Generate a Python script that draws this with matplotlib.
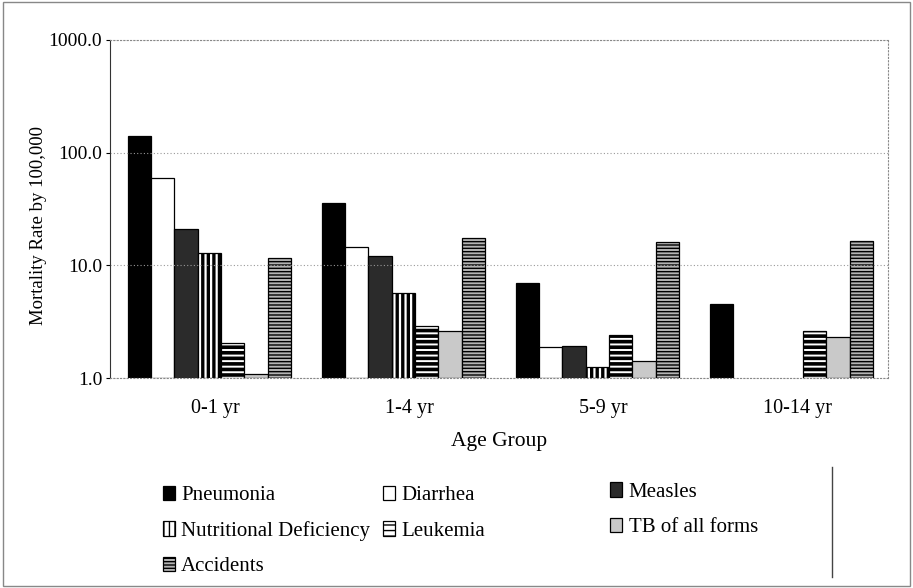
import numpy as np
import matplotlib
matplotlib.use('Agg')
import matplotlib.pyplot as plt
from matplotlib.patches import Patch, Rectangle
from matplotlib.lines import Line2D

plt.rcParams['font.family'] = ['Liberation Serif', 'DejaVu Serif']

groups = ['0-1 yr', '1-4 yr', '5-9 yr', '10-14 yr']
causes = ['Pneumonia', 'Diarrhea', 'Measles', 'Nutritional Deficiency',
          'Leukemia', 'TB of all forms', 'Accidents']
pneumonia = [140, 36, 7.0, 4.5]
diarrhea = [60, 14.5, 1.87, np.nan]
measles = [21, 12.1, 1.94, np.nan]
nutritional = [13, 5.7, 1.26, np.nan]
leukemia = [2.04, 2.9, 2.4, 2.6]
tb = [1.08, 2.6, 1.42, 2.3]
accidents = [11.6, 17.5, 16.2, 16.4]
series = [pneumonia, diarrhea, measles, nutritional, leukemia, tb, accidents]

# face, hatch, hatch linewidth
styles = [
    ('black', None, 1.0),
    ('white', None, 1.0),
    ('#2b2b2b', None, 1.0),
    ('white', '|||', 2.4),
    ('white', '---', 2.6),
    ('#c9c9c9', None, 1.0),
    ('#b4b4b4', '-----', 1.0),
]

fig = plt.figure(figsize=(9.13, 5.88), dpi=100)
ax = fig.add_axes([0.121, 0.357, 0.852, 0.575])

x = np.arange(len(groups))
w = 0.12
for j, (vals, (fc, h, hlw)) in enumerate(zip(series, styles)):
    with plt.rc_context({'hatch.linewidth': hlw}):
        vals = np.array(vals, dtype=float)
        ax.bar(x + (j - 3) * w, vals - 1, bottom=1, width=w,
               facecolor=fc, edgecolor='black', linewidth=0.9, hatch=h)

ax.set_yscale('log')
ax.set_ylim(1, 1000)
ax.set_xlim(-0.51, 3.5)
ax.set_yticks([1, 10, 100, 1000])
ax.set_yticklabels(['1.0', '10.0', '100.0', '1000.0'], fontsize=14)
ax.minorticks_off()
ax.set_xticks(x + 0.03)
ax.set_xticklabels(groups, fontsize=14.5)
ax.tick_params(axis='x', length=0, pad=15)
ax.tick_params(axis='y', length=3, pad=3)
ax.grid(axis='y', linestyle=(0, (1, 2)), color='#999999', linewidth=0.8)
for s in ['top', 'right', 'bottom']:
    ax.spines[s].set_linestyle((0, (1, 2)))
    ax.spines[s].set_color('#888888')
ax.spines['left'].set_color('#333333')
ax.set_ylabel('Mortality Rate by 100,000', fontsize=13.5)
ax.yaxis.set_label_coords(-0.081, 0.45)
ax.set_xlabel('Age Group', fontsize=15.5, labelpad=10)


def handle(i):
    fc, h, hlw = styles[i]
    with plt.rc_context({'hatch.linewidth': max(hlw * 0.6, 0.8)}):
        return Patch(facecolor=fc, edgecolor='black', hatch=h, linewidth=0.9)


cols = [([0, 3, 6], 0.178, 0.174), ([1, 4], 0.419, 0.174), ([2, 5], 0.668, 0.180)]
for idx, xa, ya in cols:
    fig.legend([handle(i) for i in idx], [causes[i] for i in idx],
               loc='upper left', bbox_to_anchor=(xa, ya), frameon=False,
               fontsize=15, borderpad=0, borderaxespad=0,
               handlelength=0.6, handleheight=0.7, handletextpad=0.3,
               labelspacing=0.76)

fig.add_artist(Line2D([832 / 913] * 2, [1 - 467 / 588, 1 - 577 / 588],
                      color='#444444', linewidth=1))
fig.add_artist(Rectangle((0.003, 0.004), 0.994, 0.992, transform=fig.transFigure,
                         fill=False, edgecolor='#888888', linewidth=1))

fig.savefig('out.png', dpi=100)
